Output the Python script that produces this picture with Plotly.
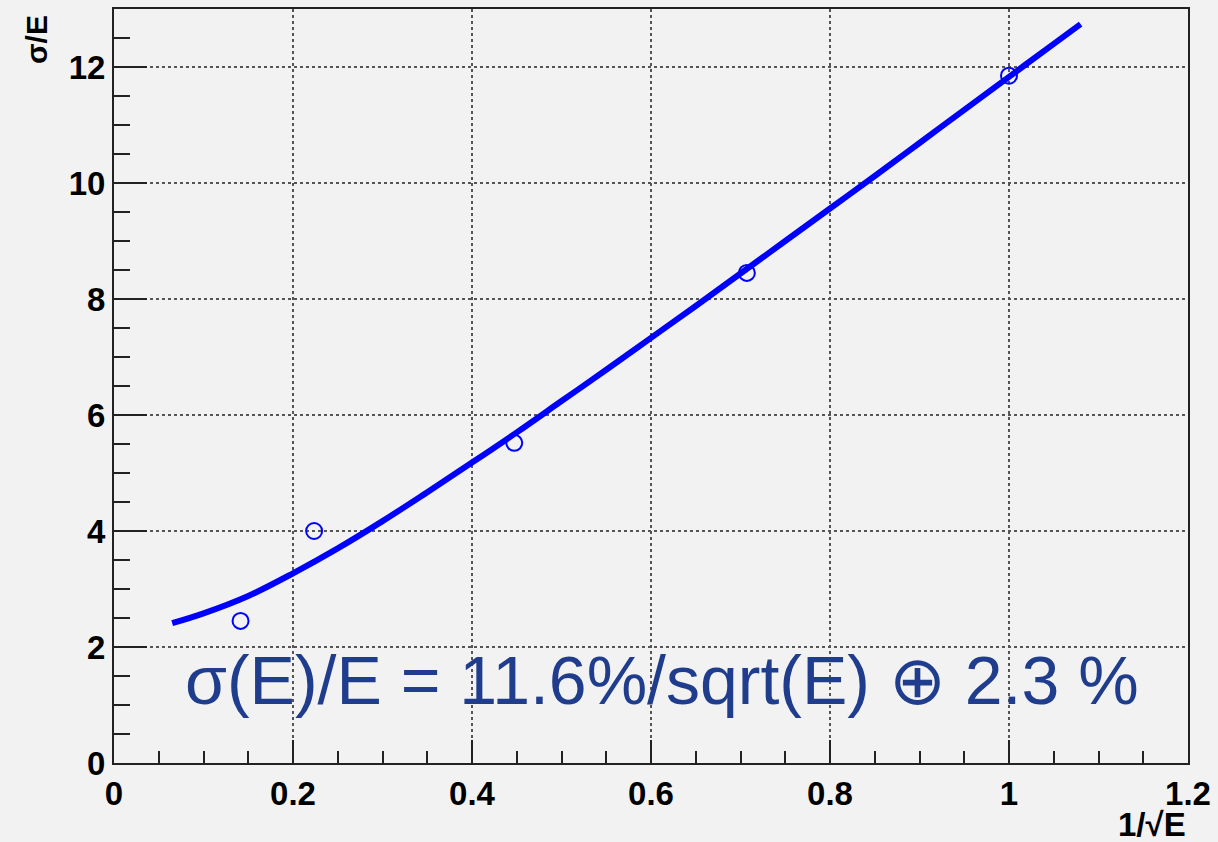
import plotly.graph_objects as go

# measured points
pts_x = [0.1414, 0.2236, 0.4472, 0.7071, 1.0]
pts_y = [2.45, 4.0, 5.52, 8.45, 11.85]

# fitted curve
curve_x = [0.065, 0.1, 0.15, 0.2, 0.25, 0.3, 0.35, 0.4, 0.45, 0.5, 0.55,
           0.6, 0.65, 0.7, 0.75, 0.8, 0.85, 0.9, 0.95, 1.0, 1.05, 1.08]
curve_y = [2.41, 2.58, 2.88, 3.27, 3.70, 4.17, 4.67, 5.18, 5.70, 6.24, 6.78,
           7.33, 7.88, 8.44, 9.00, 9.56, 10.12, 10.69, 11.26, 11.83, 12.40, 12.74]

x_ticks = [0, 0.2, 0.4, 0.6, 0.8, 1.0, 1.2]
x_labels = ["0", "0.2", "0.4", "0.6", "0.8", "1", "1.2"]
y_ticks = [0, 2, 4, 6, 8, 10, 12]
y_labels = ["0", "2", "4", "6", "8", "10", "12"]

formula_text = "σ(E)/E = 11.6%/sqrt(E) ⊕ 2.3 %"

BG = "#f2f2f2"
FONT = "Liberation Sans"

fig = go.Figure()
fig.add_trace(go.Scatter(x=curve_x, y=curve_y, mode="lines",
                         line=dict(color="#0000ff", width=6, shape="spline"),
                         showlegend=False, hoverinfo="skip"))
fig.add_trace(go.Scatter(x=pts_x, y=pts_y, mode="markers",
                         marker=dict(symbol="circle-open", size=16, color="#0000ff",
                                     line=dict(width=2, color="#0000ff")),
                         showlegend=False))

fig.add_annotation(x=0.612, y=1.43, xref="x", yref="y", text=formula_text,
                   showarrow=False, xanchor="center", yanchor="middle",
                   font=dict(family=FONT, size=68, color="#1f3d8c"))
fig.add_annotation(x=1.0, y=-0.082, xref="paper", yref="paper", text="1/√E",
                   showarrow=False, xanchor="right", yanchor="middle",
                   font=dict(family=FONT, size=33, color="black", weight="bold"))
fig.add_annotation(x=-0.072, y=0.995, xref="paper", yref="paper", text="σ/E",
                   showarrow=False, xanchor="center", yanchor="top", textangle=-90,
                   font=dict(family=FONT, size=30, color="black", weight="bold"))

axis_common = dict(showline=True, linecolor="#222222", linewidth=2, mirror=True,
                   ticks="inside", tickcolor="#222222", tickwidth=2,
                   showgrid=True, gridcolor="#555555", griddash="dot", gridwidth=1.5,
                   zeroline=False,
                   tickfont=dict(family=FONT, size=33, color="black", weight="bold"))

fig.update_xaxes(range=[0, 1.2], tickvals=x_ticks, ticktext=x_labels, ticklen=23,
                 minor=dict(dtick=0.05, ticks="inside", ticklen=12, tickcolor="#222222",
                            tickwidth=2, showgrid=False),
                 **axis_common)
fig.update_yaxes(range=[0, 13], tickvals=y_ticks, ticktext=y_labels, ticklen=33,
                 minor=dict(dtick=0.5, ticks="inside", ticklen=16, tickcolor="#222222",
                            tickwidth=2, showgrid=False),
                 **axis_common)

fig.update_layout(width=1218, height=842, paper_bgcolor=BG, plot_bgcolor=BG,
                  margin=dict(l=114, r=29, t=7, b=79), showlegend=False)

fig.write_html("out.html")
